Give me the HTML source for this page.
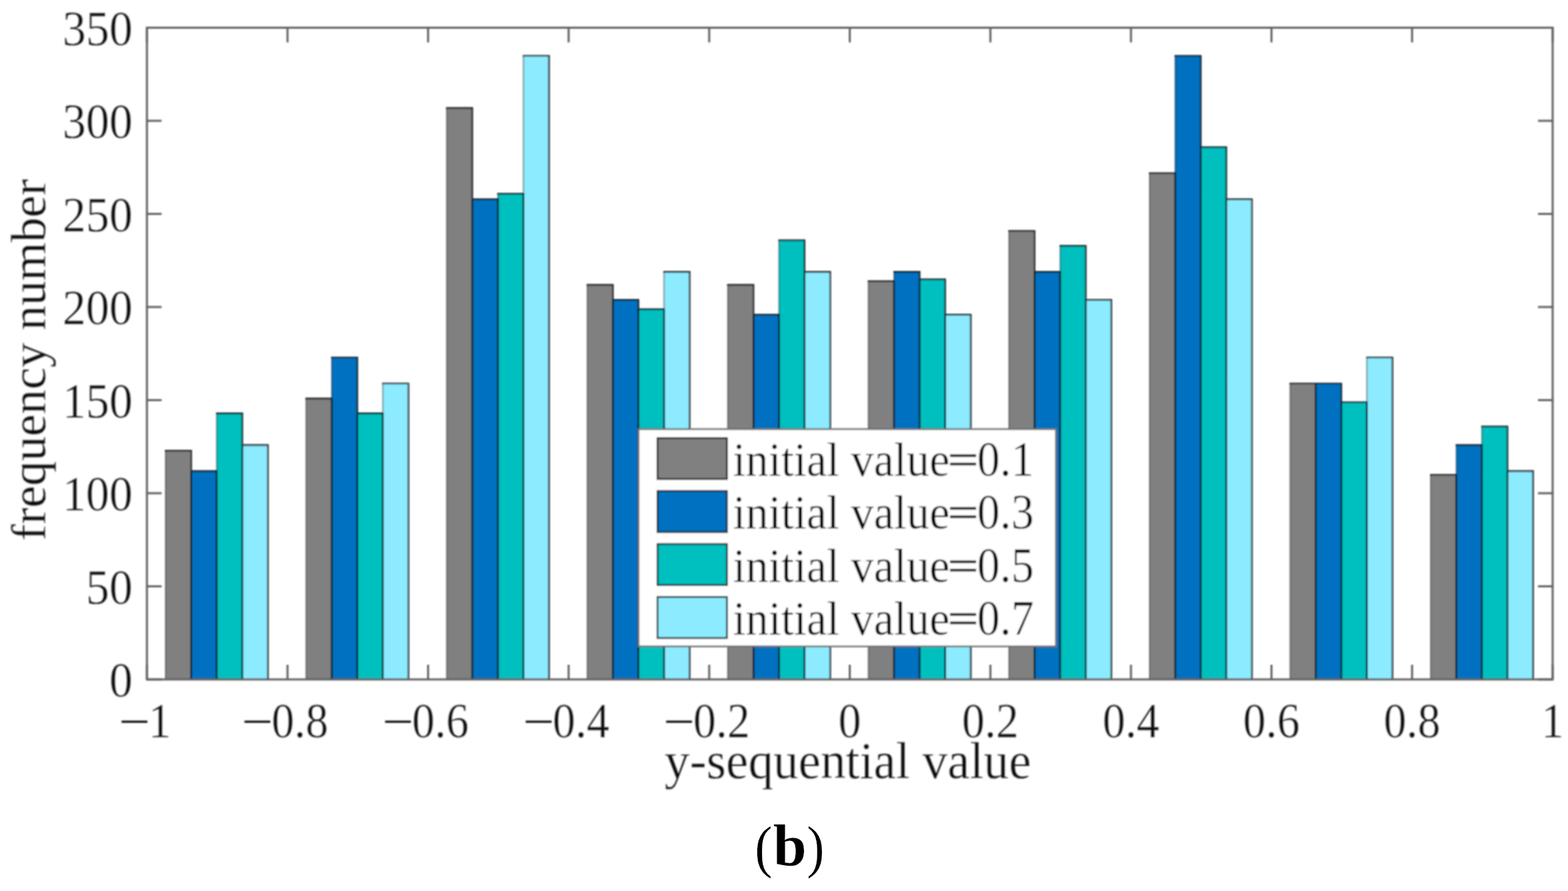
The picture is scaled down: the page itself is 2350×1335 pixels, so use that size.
<!DOCTYPE html>
<html lang="en">
<head>
<meta charset="utf-8">
<title>Frequency histogram (b)</title>
<style>
html,body{margin:0;padding:0;background:#fff;}
body{width:2350px;height:1335px;overflow:hidden;}
svg{display:block;}
text{font-family:"Liberation Serif","Times New Roman",serif;fill:#0a0a0a;stroke:#fff;stroke-width:0.3px;paint-order:fill stroke;}
.t{font-size:68px;}
.l{font-size:75px;}
.g{font-size:68px;fill:#000;}
.c{font-size:90px;fill:#000;}
.m{stroke:none;}
.e{stroke:#000;stroke-width:0.5px;}
</style>
</head>
<body>
<svg width="2350" height="1335" viewBox="0 0 2350 1335">
<rect x="0" y="0" width="2350" height="1335" fill="#ffffff"/>
<defs><filter id="soft" x="0" y="0" width="2350" height="1335" filterUnits="userSpaceOnUse"><feGaussianBlur stdDeviation="0.9"/></filter></defs>
<g filter="url(#soft)">
<g stroke="#5e5e5e" stroke-width="3" fill="none">
<line x1="220.2" y1="1018.0" x2="220.2" y2="996.0"/>
<line x1="220.2" y1="41.5" x2="220.2" y2="63.5"/>
<line x1="430.9" y1="1018.0" x2="430.9" y2="996.0"/>
<line x1="430.9" y1="41.5" x2="430.9" y2="63.5"/>
<line x1="641.6" y1="1018.0" x2="641.6" y2="996.0"/>
<line x1="641.6" y1="41.5" x2="641.6" y2="63.5"/>
<line x1="852.2" y1="1018.0" x2="852.2" y2="996.0"/>
<line x1="852.2" y1="41.5" x2="852.2" y2="63.5"/>
<line x1="1062.9" y1="1018.0" x2="1062.9" y2="996.0"/>
<line x1="1062.9" y1="41.5" x2="1062.9" y2="63.5"/>
<line x1="1273.6" y1="1018.0" x2="1273.6" y2="996.0"/>
<line x1="1273.6" y1="41.5" x2="1273.6" y2="63.5"/>
<line x1="1484.3" y1="1018.0" x2="1484.3" y2="996.0"/>
<line x1="1484.3" y1="41.5" x2="1484.3" y2="63.5"/>
<line x1="1695.0" y1="1018.0" x2="1695.0" y2="996.0"/>
<line x1="1695.0" y1="41.5" x2="1695.0" y2="63.5"/>
<line x1="1905.6" y1="1018.0" x2="1905.6" y2="996.0"/>
<line x1="1905.6" y1="41.5" x2="1905.6" y2="63.5"/>
<line x1="2116.3" y1="1018.0" x2="2116.3" y2="996.0"/>
<line x1="2116.3" y1="41.5" x2="2116.3" y2="63.5"/>
<line x1="2327.0" y1="1018.0" x2="2327.0" y2="996.0"/>
<line x1="2327.0" y1="41.5" x2="2327.0" y2="63.5"/>
<line x1="220.2" y1="1018.0" x2="242.2" y2="1018.0"/>
<line x1="2327.0" y1="1018.0" x2="2305.0" y2="1018.0"/>
<line x1="220.2" y1="878.5" x2="242.2" y2="878.5"/>
<line x1="2327.0" y1="878.5" x2="2305.0" y2="878.5"/>
<line x1="220.2" y1="739.0" x2="242.2" y2="739.0"/>
<line x1="2327.0" y1="739.0" x2="2305.0" y2="739.0"/>
<line x1="220.2" y1="599.5" x2="242.2" y2="599.5"/>
<line x1="2327.0" y1="599.5" x2="2305.0" y2="599.5"/>
<line x1="220.2" y1="460.0" x2="242.2" y2="460.0"/>
<line x1="2327.0" y1="460.0" x2="2305.0" y2="460.0"/>
<line x1="220.2" y1="320.5" x2="242.2" y2="320.5"/>
<line x1="2327.0" y1="320.5" x2="2305.0" y2="320.5"/>
<line x1="220.2" y1="181.0" x2="242.2" y2="181.0"/>
<line x1="2327.0" y1="181.0" x2="2305.0" y2="181.0"/>
<line x1="220.2" y1="41.5" x2="242.2" y2="41.5"/>
<line x1="2327.0" y1="41.5" x2="2305.0" y2="41.5"/>
</g>
<g>
<rect x="248.1" y="675.2" width="38.3" height="342.8" fill="#808080"/>
<rect x="286.5" y="705.9" width="38.3" height="312.1" fill="#0071C0"/>
<rect x="324.8" y="619.4" width="38.3" height="398.6" fill="#00BFBF"/>
<rect x="363.1" y="666.9" width="38.3" height="351.1" fill="#8CEBFF"/>
<rect x="458.8" y="597.1" width="38.3" height="420.9" fill="#808080"/>
<rect x="497.1" y="535.7" width="38.3" height="482.3" fill="#0071C0"/>
<rect x="535.5" y="619.4" width="38.3" height="398.6" fill="#00BFBF"/>
<rect x="573.8" y="574.8" width="38.3" height="443.2" fill="#8CEBFF"/>
<rect x="669.5" y="161.9" width="38.3" height="856.1" fill="#808080"/>
<rect x="707.8" y="298.6" width="38.3" height="719.4" fill="#0071C0"/>
<rect x="746.2" y="290.2" width="38.3" height="727.8" fill="#00BFBF"/>
<rect x="784.5" y="83.7" width="38.3" height="934.3" fill="#8CEBFF"/>
<rect x="880.2" y="426.9" width="38.3" height="591.1" fill="#808080"/>
<rect x="918.5" y="449.2" width="38.3" height="568.8" fill="#0071C0"/>
<rect x="956.8" y="463.2" width="38.3" height="554.8" fill="#00BFBF"/>
<rect x="995.2" y="407.4" width="38.3" height="610.6" fill="#8CEBFF"/>
<rect x="1090.8" y="426.9" width="38.3" height="591.1" fill="#808080"/>
<rect x="1129.2" y="471.6" width="38.3" height="546.4" fill="#0071C0"/>
<rect x="1167.5" y="360.0" width="38.3" height="658.0" fill="#00BFBF"/>
<rect x="1205.8" y="407.4" width="38.3" height="610.6" fill="#8CEBFF"/>
<rect x="1301.5" y="421.3" width="38.3" height="596.7" fill="#808080"/>
<rect x="1339.9" y="407.4" width="38.3" height="610.6" fill="#0071C0"/>
<rect x="1378.2" y="418.5" width="38.3" height="599.5" fill="#00BFBF"/>
<rect x="1416.5" y="471.6" width="38.3" height="546.4" fill="#8CEBFF"/>
<rect x="1512.2" y="346.0" width="38.3" height="672.0" fill="#808080"/>
<rect x="1550.5" y="407.4" width="38.3" height="610.6" fill="#0071C0"/>
<rect x="1588.9" y="368.3" width="38.3" height="649.7" fill="#00BFBF"/>
<rect x="1627.2" y="449.2" width="38.3" height="568.8" fill="#8CEBFF"/>
<rect x="1722.9" y="259.5" width="38.3" height="758.5" fill="#808080"/>
<rect x="1761.2" y="83.7" width="38.3" height="934.3" fill="#0071C0"/>
<rect x="1799.6" y="220.5" width="38.3" height="797.5" fill="#00BFBF"/>
<rect x="1837.9" y="298.6" width="38.3" height="719.4" fill="#8CEBFF"/>
<rect x="1933.6" y="574.8" width="38.3" height="443.2" fill="#808080"/>
<rect x="1971.9" y="574.8" width="38.3" height="443.2" fill="#0071C0"/>
<rect x="2010.2" y="602.7" width="38.3" height="415.3" fill="#00BFBF"/>
<rect x="2048.6" y="535.7" width="38.3" height="482.3" fill="#8CEBFF"/>
<rect x="2144.2" y="711.5" width="38.3" height="306.5" fill="#808080"/>
<rect x="2182.6" y="666.9" width="38.3" height="351.1" fill="#0071C0"/>
<rect x="2220.9" y="639.0" width="38.3" height="379.0" fill="#00BFBF"/>
<rect x="2259.2" y="705.9" width="38.3" height="312.1" fill="#8CEBFF"/>
</g>
<path d="M248.1 1018.0V675.2M286.5 1018.0V705.9M324.8 1018.0V619.4M363.1 1018.0V666.9M458.8 1018.0V597.1M497.1 1018.0V535.7M535.5 1018.0V619.4M573.8 1018.0V574.8M669.5 1018.0V161.9M707.8 1018.0V298.6M746.2 1018.0V290.2M784.5 1018.0V83.7M880.2 1018.0V426.9M918.5 1018.0V449.2M956.8 1018.0V463.2M995.2 1018.0V407.4M1090.8 1018.0V426.9M1129.2 1018.0V471.6M1167.5 1018.0V360.0M1205.8 1018.0V407.4M1301.5 1018.0V421.3M1339.9 1018.0V407.4M1378.2 1018.0V418.5M1416.5 1018.0V471.6M1512.2 1018.0V346.0M1550.5 1018.0V407.4M1588.9 1018.0V368.3M1627.2 1018.0V449.2M1722.9 1018.0V259.5M1761.2 1018.0V83.7M1799.6 1018.0V220.5M1837.9 1018.0V298.6M1933.6 1018.0V574.8M1971.9 1018.0V574.8M2010.2 1018.0V602.7M2048.6 1018.0V535.7M2144.2 1018.0V711.5M2182.6 1018.0V666.9M2220.9 1018.0V639.0M2259.2 1018.0V705.9" fill="none" stroke="rgba(0,0,0,0.45)" stroke-width="2"/>
<path d="M247.1 675.2H286.5V1018.0M285.5 705.9H324.8V1018.0M323.8 619.4H363.1V1018.0M362.1 666.9H401.5V1018.0M457.8 597.1H497.1V1018.0M496.1 535.7H535.5V1018.0M534.5 619.4H573.8V1018.0M572.8 574.8H612.1V1018.0M668.5 161.9H707.8V1018.0M706.8 298.6H746.2V1018.0M745.2 290.2H784.5V1018.0M783.5 83.7H822.8V1018.0M879.2 426.9H918.5V1018.0M917.5 449.2H956.8V1018.0M955.8 463.2H995.2V1018.0M994.2 407.4H1033.5V1018.0M1089.8 426.9H1129.2V1018.0M1128.2 471.6H1167.5V1018.0M1166.5 360.0H1205.8V1018.0M1204.8 407.4H1244.2V1018.0M1300.5 421.3H1339.9V1018.0M1338.9 407.4H1378.2V1018.0M1377.2 418.5H1416.5V1018.0M1415.5 471.6H1454.9V1018.0M1511.2 346.0H1550.5V1018.0M1549.5 407.4H1588.9V1018.0M1587.9 368.3H1627.2V1018.0M1626.2 449.2H1665.5V1018.0M1721.9 259.5H1761.2V1018.0M1760.2 83.7H1799.6V1018.0M1798.6 220.5H1837.9V1018.0M1836.9 298.6H1876.2V1018.0M1932.6 574.8H1971.9V1018.0M1970.9 574.8H2010.2V1018.0M2009.2 602.7H2048.6V1018.0M2047.6 535.7H2086.9V1018.0M2143.2 711.5H2182.6V1018.0M2181.6 666.9H2220.9V1018.0M2219.9 639.0H2259.2V1018.0M2258.2 705.9H2297.6V1018.0" fill="none" stroke="rgba(0,0,0,0.82)" stroke-width="2.6"/>
<rect x="220.2" y="41.5" width="2106.8" height="976.5" fill="none" stroke="#5e5e5e" stroke-width="3"/>
<text class="t" text-anchor="end" transform="translate(198.8 1044.2) scale(1.03 1.09)">0</text>
<text class="t" text-anchor="end" transform="translate(198.8 904.7) scale(1.03 1.09)">50</text>
<text class="t" text-anchor="end" transform="translate(198.8 765.2) scale(1.03 1.09)">100</text>
<text class="t" text-anchor="end" transform="translate(198.8 625.7) scale(1.03 1.09)">150</text>
<text class="t" text-anchor="end" transform="translate(198.8 486.2) scale(1.03 1.09)">200</text>
<text class="t" text-anchor="end" transform="translate(198.8 346.7) scale(1.03 1.09)">250</text>
<text class="t" text-anchor="end" transform="translate(198.8 207.2) scale(1.03 1.09)">300</text>
<text class="t" text-anchor="end" transform="translate(198.8 67.7) scale(1.03 1.09)">350</text>
<text class="t m" text-anchor="end" transform="translate(224.9 1104.3) scale(1.225 1)">−</text>
<text class="t" text-anchor="start" transform="translate(222.5 1104.6) scale(1 1.09)">1</text>
<text class="t m" text-anchor="end" transform="translate(409.3 1104.3) scale(1.225 1)">−</text>
<text class="t" text-anchor="start" transform="translate(406.9 1104.6) scale(1 1.09)">0.8</text>
<text class="t m" text-anchor="end" transform="translate(620.0 1104.3) scale(1.225 1)">−</text>
<text class="t" text-anchor="start" transform="translate(617.6 1104.6) scale(1 1.09)">0.6</text>
<text class="t m" text-anchor="end" transform="translate(830.6 1104.3) scale(1.225 1)">−</text>
<text class="t" text-anchor="start" transform="translate(828.2 1104.6) scale(1 1.09)">0.4</text>
<text class="t m" text-anchor="end" transform="translate(1041.3 1104.3) scale(1.225 1)">−</text>
<text class="t" text-anchor="start" transform="translate(1038.9 1104.6) scale(1 1.09)">0.2</text>
<text class="t" text-anchor="middle" transform="translate(1273.6 1104.6) scale(1 1.09)">0</text>
<text class="t" text-anchor="middle" transform="translate(1484.3 1104.6) scale(1 1.09)">0.2</text>
<text class="t" text-anchor="middle" transform="translate(1695.0 1104.6) scale(1 1.09)">0.4</text>
<text class="t" text-anchor="middle" transform="translate(1905.6 1104.6) scale(1 1.09)">0.6</text>
<text class="t" text-anchor="middle" transform="translate(2116.3 1104.6) scale(1 1.09)">0.8</text>
<text class="t" text-anchor="middle" transform="translate(2327.0 1104.6) scale(1 1.09)">1</text>
<text class="l" text-anchor="middle" transform="translate(1270.7 1165.7) scale(1.003 1.04)">y-sequential value</text>
<text class="l" text-anchor="middle" transform="translate(67.6 539.2) rotate(-90) scale(0.99 0.98)">frequency number</text>
<rect x="957" y="643" width="625.5" height="325.5" fill="#ffffff" stroke="#707070" stroke-width="2.6"/>
<rect x="985.3" y="656.3" width="104.2" height="61.5" fill="#808080" stroke="rgba(0,0,0,0.82)" stroke-width="2.6"/>
<text class="g" text-anchor="start" transform="translate(1098.5 712.8) scale(1.006 1.07)">initial value</text>
<text class="g e" text-anchor="middle" transform="translate(1443.3 709.6) scale(1.22 0.92)">=</text>
<text class="g" text-anchor="start" transform="translate(1464.5 712.8) scale(1 1.09)">0.1</text>
<rect x="985.3" y="735.7" width="104.2" height="61.5" fill="#0071C0" stroke="rgba(0,0,0,0.82)" stroke-width="2.6"/>
<text class="g" text-anchor="start" transform="translate(1098.5 792.3) scale(1.006 1.07)">initial value</text>
<text class="g e" text-anchor="middle" transform="translate(1443.3 789.1) scale(1.22 0.92)">=</text>
<text class="g" text-anchor="start" transform="translate(1464.5 792.3) scale(1 1.09)">0.3</text>
<rect x="985.3" y="815.1" width="104.2" height="61.5" fill="#00BFBF" stroke="rgba(0,0,0,0.82)" stroke-width="2.6"/>
<text class="g" text-anchor="start" transform="translate(1098.5 871.8) scale(1.006 1.07)">initial value</text>
<text class="g e" text-anchor="middle" transform="translate(1443.3 868.6) scale(1.22 0.92)">=</text>
<text class="g" text-anchor="start" transform="translate(1464.5 871.8) scale(1 1.09)">0.5</text>
<rect x="985.3" y="894.5" width="104.2" height="61.5" fill="#8CEBFF" stroke="rgba(0,0,0,0.82)" stroke-width="2.6"/>
<text class="g" text-anchor="start" transform="translate(1098.5 951.3) scale(1.006 1.07)">initial value</text>
<text class="g e" text-anchor="middle" transform="translate(1443.3 948.1) scale(1.22 0.92)">=</text>
<text class="g" text-anchor="start" transform="translate(1464.5 951.3) scale(1 1.09)">0.7</text>
</g>
<text class="c p" text-anchor="start" transform="translate(1131.2 1297.7) scale(0.876 0.97)">(</text>
<text font-weight="bold" class="c" text-anchor="start" transform="translate(1158.7 1297.3) scale(1 0.987)">b</text>
<text class="c p" text-anchor="start" transform="translate(1209.3 1297.7) scale(0.876 0.97)">)</text>
</svg>
</body>
</html>
